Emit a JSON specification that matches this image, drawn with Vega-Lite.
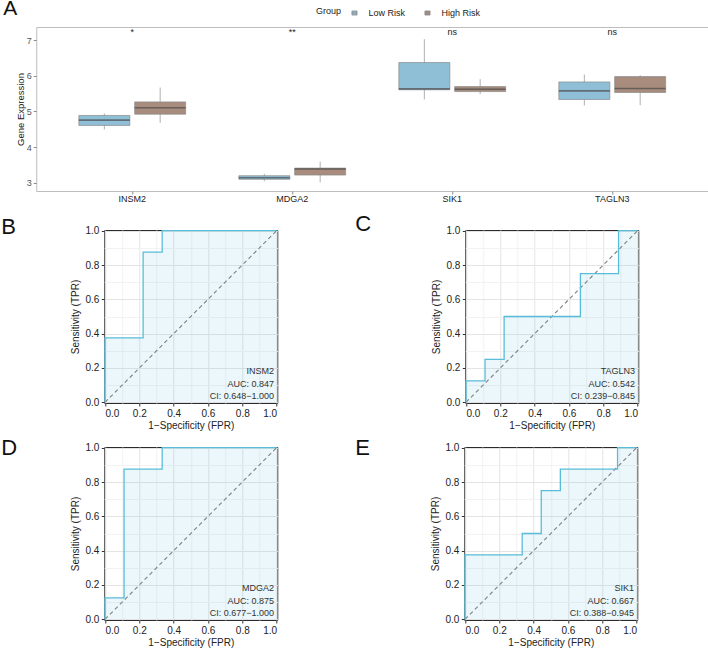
{
  "$schema": "https://vega.github.io/schema/vega-lite/v6.json",
  "padding": {"top": -3, "left": 0, "right": 0, "bottom": 0},
  "autosize": {"type": "pad"},
  "background": "white",
  "config": {
    "font": "Liberation Sans",
    "view": {"stroke": null},
    "title": {"font": "Liberation Sans", "fontWeight": "normal", "color": "#111"},
    "axis": {"grid": true, "domain": false, "tickColor": "#333", "tickSize": 3, "labelFontSize": 10, "labelColor": "#222", "titleFontSize": 10, "titleFontWeight": "normal", "titleColor": "#222", "labelOverlap": false}
  },
  "datasets": {
    "box": [
      {"gene": "INSM2", "group": "Low Risk", "lower": 4.496, "q1": 4.608, "median": 4.757, "q3": 4.889, "upper": 4.945},
      {"gene": "INSM2", "group": "High Risk", "lower": 4.68, "q1": 4.925, "median": 5.105, "q3": 5.27, "upper": 5.674},
      {"gene": "MDGA2", "group": "Low Risk", "lower": 3.04, "q1": 3.095, "median": 3.14, "q3": 3.196, "upper": 3.25},
      {"gene": "MDGA2", "group": "High Risk", "lower": 3.01, "q1": 3.215, "median": 3.383, "q3": 3.41, "upper": 3.59},
      {"gene": "SIK1", "group": "Low Risk", "lower": 5.34, "q1": 5.61, "median": 5.635, "q3": 6.375, "upper": 7.03},
      {"gene": "SIK1", "group": "High Risk", "lower": 5.486, "q1": 5.56, "median": 5.626, "q3": 5.7, "upper": 5.907},
      {"gene": "TAGLN3", "group": "Low Risk", "lower": 5.17, "q1": 5.337, "median": 5.58, "q3": 5.83, "upper": 6.038},
      {"gene": "TAGLN3", "group": "High Risk", "lower": 5.178, "q1": 5.534, "median": 5.646, "q3": 5.98, "upper": 6.02}
    ],
    "sig": [
      {"gene": "INSM2", "label": "*"},
      {"gene": "MDGA2", "label": "**"},
      {"gene": "SIK1", "label": "ns"},
      {"gene": "TAGLN3", "label": "ns"}
    ],
    "roc": [
      {"gene": "INSM2", "i": 0, "fpr": 0, "tpr": 0},
      {"gene": "INSM2", "i": 1, "fpr": 0, "tpr": 0.375},
      {"gene": "INSM2", "i": 2, "fpr": 0.2222, "tpr": 0.375},
      {"gene": "INSM2", "i": 3, "fpr": 0.2222, "tpr": 0.875},
      {"gene": "INSM2", "i": 4, "fpr": 0.3333, "tpr": 0.875},
      {"gene": "INSM2", "i": 5, "fpr": 0.3333, "tpr": 1},
      {"gene": "INSM2", "i": 6, "fpr": 1, "tpr": 1},
      {"gene": "TAGLN3", "i": 0, "fpr": 0, "tpr": 0},
      {"gene": "TAGLN3", "i": 1, "fpr": 0, "tpr": 0.125},
      {"gene": "TAGLN3", "i": 2, "fpr": 0.1111, "tpr": 0.125},
      {"gene": "TAGLN3", "i": 3, "fpr": 0.1111, "tpr": 0.25},
      {"gene": "TAGLN3", "i": 4, "fpr": 0.2222, "tpr": 0.25},
      {"gene": "TAGLN3", "i": 5, "fpr": 0.2222, "tpr": 0.5},
      {"gene": "TAGLN3", "i": 6, "fpr": 0.6667, "tpr": 0.5},
      {"gene": "TAGLN3", "i": 7, "fpr": 0.6667, "tpr": 0.75},
      {"gene": "TAGLN3", "i": 8, "fpr": 0.8889, "tpr": 0.75},
      {"gene": "TAGLN3", "i": 9, "fpr": 0.8889, "tpr": 1},
      {"gene": "TAGLN3", "i": 10, "fpr": 1, "tpr": 1},
      {"gene": "MDGA2", "i": 0, "fpr": 0, "tpr": 0},
      {"gene": "MDGA2", "i": 1, "fpr": 0, "tpr": 0.125},
      {"gene": "MDGA2", "i": 2, "fpr": 0.1111, "tpr": 0.125},
      {"gene": "MDGA2", "i": 3, "fpr": 0.1111, "tpr": 0.875},
      {"gene": "MDGA2", "i": 4, "fpr": 0.3333, "tpr": 0.875},
      {"gene": "MDGA2", "i": 5, "fpr": 0.3333, "tpr": 1},
      {"gene": "MDGA2", "i": 6, "fpr": 1, "tpr": 1},
      {"gene": "SIK1", "i": 0, "fpr": 0, "tpr": 0},
      {"gene": "SIK1", "i": 1, "fpr": 0, "tpr": 0.375},
      {"gene": "SIK1", "i": 2, "fpr": 0.3333, "tpr": 0.375},
      {"gene": "SIK1", "i": 3, "fpr": 0.3333, "tpr": 0.5},
      {"gene": "SIK1", "i": 4, "fpr": 0.4444, "tpr": 0.5},
      {"gene": "SIK1", "i": 5, "fpr": 0.4444, "tpr": 0.75},
      {"gene": "SIK1", "i": 6, "fpr": 0.5556, "tpr": 0.75},
      {"gene": "SIK1", "i": 7, "fpr": 0.5556, "tpr": 0.875},
      {"gene": "SIK1", "i": 8, "fpr": 0.8889, "tpr": 0.875},
      {"gene": "SIK1", "i": 9, "fpr": 0.8889, "tpr": 1},
      {"gene": "SIK1", "i": 10, "fpr": 1, "tpr": 1}
    ],
    "stats": [
      {"gene": "INSM2", "auc": "AUC: 0.847", "ci": "CI: 0.648−1.000"},
      {"gene": "TAGLN3", "auc": "AUC: 0.542", "ci": "CI: 0.239−0.845"},
      {"gene": "MDGA2", "auc": "AUC: 0.875", "ci": "CI: 0.677−1.000"},
      {"gene": "SIK1", "auc": "AUC: 0.667", "ci": "CI: 0.388−0.945"}
    ]
  },
  "center": true,
  "spacing": 8,
  "vconcat": [
    {
      "width": 672,
      "height": 164,
      "title": {"text": "A", "anchor": "start", "frame": "group", "dx": -33, "offset": -9, "baseline": "alphabetic", "fontSize": 21},
      "view": {"stroke": "#bdbdbd", "strokeWidth": 1},
      "encoding": {
        "x": {
          "field": "gene", "type": "nominal",
          "scale": {"paddingInner": 0, "paddingOuter": 0.1},
          "axis": {"title": null, "labelAngle": 0, "labelFontSize": 9, "labelColor": "#222", "tickColor": "#888", "tickSize": 3, "labelPadding": 0, "domain": false, "grid": false}
        }
      },
      "layer": [
        {
          "data": {"name": "box"},
          "mark": {"type": "rule", "color": "#9a9a9a", "strokeWidth": 0.8},
          "encoding": {
            "xOffset": {"field": "group", "type": "nominal", "sort": ["Low Risk", "High Risk"], "scale": {"paddingInner": 0, "paddingOuter": 0.433}},
            "y": {
              "field": "lower", "type": "quantitative",
              "scale": {"domain": [2.767, 7.373], "nice": false, "zero": false},
              "axis": {"title": "Gene Expression", "values": [3, 4, 5, 6, 7], "grid": false, "domain": false, "tickColor": "#888", "tickSize": 3, "labelFontSize": 9, "labelColor": "#555", "labelPadding": 2, "titleFontSize": 9.5, "titleFontWeight": "normal", "titleColor": "#222", "titlePadding": 1}
            },
            "y2": {"field": "upper"}
          }
        },
        {
          "data": {"name": "box"},
          "mark": {"type": "bar", "width": 51, "stroke": "#8a8a8a", "strokeWidth": 0.7},
          "encoding": {
            "xOffset": {"field": "group", "type": "nominal", "sort": ["Low Risk", "High Risk"]},
            "y": {"field": "q1", "type": "quantitative"},
            "y2": {"field": "q3"},
            "color": {
              "field": "group", "type": "nominal",
              "scale": {"domain": ["Low Risk", "High Risk"], "range": ["#8fbfd6", "#a88c7d"]},
              "legend": {
                "orient": "none", "legendX": 280, "legendY": -23, "direction": "horizontal",
                "title": "Group", "titleOrient": "left", "titleAnchor": "middle", "titleBaseline": "middle",
                "titleFontSize": 9, "titleFontWeight": "normal", "titleColor": "#222", "titlePadding": 3.5,
                "labelFontSize": 9, "labelColor": "#222", "labelOffset": 5, "columnPadding": 13,
                "symbolType": "M-0.3,-0.24H0.3V0.24H-0.3Z M-0.3,0H0.3", "symbolSize": 289,
                "symbolStrokeColor": "#8a8a8a", "symbolStrokeWidth": 0.8
              }
            }
          }
        },
        {
          "data": {"name": "box"},
          "mark": {"type": "tick", "color": "#4a4a4a", "size": 51, "thickness": 1.6},
          "encoding": {
            "xOffset": {"field": "group", "type": "nominal", "sort": ["Low Risk", "High Risk"]},
            "y": {"field": "median", "type": "quantitative"}
          }
        },
        {
          "data": {"name": "sig"},
          "mark": {"type": "text", "fontSize": 9, "baseline": "middle", "color": "#222"},
          "encoding": {
            "y": {"datum": 7.22, "type": "quantitative"},
            "text": {"field": "label"}
          }
        }
      ]
    },
    {
      "spacing": 5,
      "vconcat": [
        {
          "spacing": 74,
          "hconcat": [
            {
              "width": 173, "height": 173,
              "title": {"text": "B", "anchor": "start", "frame": "group", "dx": -103, "dy": 9, "offset": -21, "baseline": "alphabetic", "fontSize": 22},
              "view": {"stroke": "#2b2b2b", "strokeWidth": 1},
              "layer": [
                {"data": {"name": "roc"}, "transform": [{"filter": {"field": "gene", "equal": "INSM2"}}], "mark": {"type": "area", "color": "#59bcd9", "opacity": 0.12},
                  "encoding": {
                    "x": {"field": "fpr", "type": "quantitative", "scale": {"domain": [-0.004, 1.004], "nice": false, "zero": false}, "axis": {"title": "1−Specificity (FPR)", "values": [0, 0.1, 0.2, 0.3, 0.4, 0.5, 0.6, 0.7, 0.8, 0.9, 1], "labelExpr": "round(datum.value*10) % 2 === 0 ? format(datum.value, '.1f') : ''", "gridColor": {"condition": {"test": "round(datum.value*10) % 2 === 1", "value": "#f2f2f2"}, "value": "#e4e4e4"}, "tickOpacity": {"condition": {"test": "round(datum.value*10) % 2 === 1", "value": 0}, "value": 1}, "labelPadding": 2, "titlePadding": 2}},
                    "y": {"field": "tpr", "type": "quantitative", "scale": {"domain": [-0.004, 1.004], "nice": false, "zero": false}, "axis": {"title": "Sensitivity (TPR)", "values": [0, 0.1, 0.2, 0.3, 0.4, 0.5, 0.6, 0.7, 0.8, 0.9, 1], "labelExpr": "round(datum.value*10) % 2 === 0 ? format(datum.value, '.1f') : ''", "gridColor": {"condition": {"test": "round(datum.value*10) % 2 === 1", "value": "#f2f2f2"}, "value": "#e4e4e4"}, "tickOpacity": {"condition": {"test": "round(datum.value*10) % 2 === 1", "value": 0}, "value": 1}, "labelPadding": 2.5, "titlePadding": 4.5}},
                    "y2": {"datum": 0}
                  }},
                {"data": {"name": "stats"}, "transform": [{"filter": {"field": "gene", "equal": "INSM2"}}], "mark": {"type": "rule", "color": "#808080", "strokeDash": [4, 3], "strokeWidth": 1.1},
                  "encoding": {
                    "x": {"datum": 0, "type": "quantitative", "axis": {"title": "1−Specificity (FPR)", "values": [0, 0.1, 0.2, 0.3, 0.4, 0.5, 0.6, 0.7, 0.8, 0.9, 1], "labelExpr": "round(datum.value*10) % 2 === 0 ? format(datum.value, '.1f') : ''", "gridColor": {"condition": {"test": "round(datum.value*10) % 2 === 1", "value": "#f2f2f2"}, "value": "#e4e4e4"}, "tickOpacity": {"condition": {"test": "round(datum.value*10) % 2 === 1", "value": 0}, "value": 1}, "labelPadding": 2, "titlePadding": 2}},
                    "y": {"datum": 0, "type": "quantitative", "axis": {"title": "Sensitivity (TPR)", "values": [0, 0.1, 0.2, 0.3, 0.4, 0.5, 0.6, 0.7, 0.8, 0.9, 1], "labelExpr": "round(datum.value*10) % 2 === 0 ? format(datum.value, '.1f') : ''", "gridColor": {"condition": {"test": "round(datum.value*10) % 2 === 1", "value": "#f2f2f2"}, "value": "#e4e4e4"}, "tickOpacity": {"condition": {"test": "round(datum.value*10) % 2 === 1", "value": 0}, "value": 1}, "labelPadding": 2.5, "titlePadding": 4.5}},
                    "x2": {"datum": 1}, "y2": {"datum": 1}
                  }},
                {"data": {"name": "roc"}, "transform": [{"filter": {"field": "gene", "equal": "INSM2"}}], "mark": {"type": "line", "color": "#59bcd9", "strokeWidth": 1.3},
                  "encoding": {
                    "x": {"field": "fpr", "type": "quantitative", "axis": {"title": "1−Specificity (FPR)", "values": [0, 0.1, 0.2, 0.3, 0.4, 0.5, 0.6, 0.7, 0.8, 0.9, 1], "labelExpr": "round(datum.value*10) % 2 === 0 ? format(datum.value, '.1f') : ''", "gridColor": {"condition": {"test": "round(datum.value*10) % 2 === 1", "value": "#f2f2f2"}, "value": "#e4e4e4"}, "tickOpacity": {"condition": {"test": "round(datum.value*10) % 2 === 1", "value": 0}, "value": 1}, "labelPadding": 2, "titlePadding": 2}},
                    "y": {"field": "tpr", "type": "quantitative", "axis": {"title": "Sensitivity (TPR)", "values": [0, 0.1, 0.2, 0.3, 0.4, 0.5, 0.6, 0.7, 0.8, 0.9, 1], "labelExpr": "round(datum.value*10) % 2 === 0 ? format(datum.value, '.1f') : ''", "gridColor": {"condition": {"test": "round(datum.value*10) % 2 === 1", "value": "#f2f2f2"}, "value": "#e4e4e4"}, "tickOpacity": {"condition": {"test": "round(datum.value*10) % 2 === 1", "value": 0}, "value": 1}, "labelPadding": 2.5, "titlePadding": 4.5}},
                    "order": {"field": "i"}
                  }},
                {"data": {"name": "stats"}, "transform": [{"filter": {"field": "gene", "equal": "INSM2"}}],
                  "encoding": {
                    "x": {"datum": 0.985, "type": "quantitative", "axis": {"title": "1−Specificity (FPR)", "values": [0, 0.1, 0.2, 0.3, 0.4, 0.5, 0.6, 0.7, 0.8, 0.9, 1], "labelExpr": "round(datum.value*10) % 2 === 0 ? format(datum.value, '.1f') : ''", "gridColor": {"condition": {"test": "round(datum.value*10) % 2 === 1", "value": "#f2f2f2"}, "value": "#e4e4e4"}, "tickOpacity": {"condition": {"test": "round(datum.value*10) % 2 === 1", "value": 0}, "value": 1}, "labelPadding": 2, "titlePadding": 2}}
                  },
                  "layer": [
                    {"mark": {"type": "text", "align": "right", "baseline": "middle", "fontSize": 9, "color": "#333"}, "encoding": {"y": {"datum": 0.18, "type": "quantitative", "axis": {"title": "Sensitivity (TPR)", "values": [0, 0.1, 0.2, 0.3, 0.4, 0.5, 0.6, 0.7, 0.8, 0.9, 1], "labelExpr": "round(datum.value*10) % 2 === 0 ? format(datum.value, '.1f') : ''", "gridColor": {"condition": {"test": "round(datum.value*10) % 2 === 1", "value": "#f2f2f2"}, "value": "#e4e4e4"}, "tickOpacity": {"condition": {"test": "round(datum.value*10) % 2 === 1", "value": 0}, "value": 1}, "labelPadding": 2.5, "titlePadding": 4.5}}, "text": {"field": "gene"}}},
                    {"mark": {"type": "text", "align": "right", "baseline": "middle", "fontSize": 9, "color": "#333"}, "encoding": {"y": {"datum": 0.105, "type": "quantitative", "axis": {"title": "Sensitivity (TPR)", "values": [0, 0.1, 0.2, 0.3, 0.4, 0.5, 0.6, 0.7, 0.8, 0.9, 1], "labelExpr": "round(datum.value*10) % 2 === 0 ? format(datum.value, '.1f') : ''", "gridColor": {"condition": {"test": "round(datum.value*10) % 2 === 1", "value": "#f2f2f2"}, "value": "#e4e4e4"}, "tickOpacity": {"condition": {"test": "round(datum.value*10) % 2 === 1", "value": 0}, "value": 1}, "labelPadding": 2.5, "titlePadding": 4.5}}, "text": {"field": "auc"}}},
                    {"mark": {"type": "text", "align": "right", "baseline": "middle", "fontSize": 9, "color": "#333"}, "encoding": {"y": {"datum": 0.035, "type": "quantitative", "axis": {"title": "Sensitivity (TPR)", "values": [0, 0.1, 0.2, 0.3, 0.4, 0.5, 0.6, 0.7, 0.8, 0.9, 1], "labelExpr": "round(datum.value*10) % 2 === 0 ? format(datum.value, '.1f') : ''", "gridColor": {"condition": {"test": "round(datum.value*10) % 2 === 1", "value": "#f2f2f2"}, "value": "#e4e4e4"}, "tickOpacity": {"condition": {"test": "round(datum.value*10) % 2 === 1", "value": 0}, "value": 1}, "labelPadding": 2.5, "titlePadding": 4.5}}, "text": {"field": "ci"}}}
                  ]}
              ]
            },
            {
              "width": 173, "height": 173,
              "title": {"text": "C", "anchor": "start", "frame": "group", "dx": -110, "dy": 8, "offset": -19, "baseline": "alphabetic", "fontSize": 22},
              "view": {"stroke": "#2b2b2b", "strokeWidth": 1},
              "layer": [
                {"data": {"name": "roc"}, "transform": [{"filter": {"field": "gene", "equal": "TAGLN3"}}], "mark": {"type": "area", "color": "#59bcd9", "opacity": 0.12},
                  "encoding": {
                    "x": {"field": "fpr", "type": "quantitative", "scale": {"domain": [-0.004, 1.004], "nice": false, "zero": false}, "axis": {"title": "1−Specificity (FPR)", "values": [0, 0.1, 0.2, 0.3, 0.4, 0.5, 0.6, 0.7, 0.8, 0.9, 1], "labelExpr": "round(datum.value*10) % 2 === 0 ? format(datum.value, '.1f') : ''", "gridColor": {"condition": {"test": "round(datum.value*10) % 2 === 1", "value": "#f2f2f2"}, "value": "#e4e4e4"}, "tickOpacity": {"condition": {"test": "round(datum.value*10) % 2 === 1", "value": 0}, "value": 1}, "labelPadding": 2, "titlePadding": 2}},
                    "y": {"field": "tpr", "type": "quantitative", "scale": {"domain": [-0.004, 1.004], "nice": false, "zero": false}, "axis": {"title": "Sensitivity (TPR)", "values": [0, 0.1, 0.2, 0.3, 0.4, 0.5, 0.6, 0.7, 0.8, 0.9, 1], "labelExpr": "round(datum.value*10) % 2 === 0 ? format(datum.value, '.1f') : ''", "gridColor": {"condition": {"test": "round(datum.value*10) % 2 === 1", "value": "#f2f2f2"}, "value": "#e4e4e4"}, "tickOpacity": {"condition": {"test": "round(datum.value*10) % 2 === 1", "value": 0}, "value": 1}, "labelPadding": 2.5, "titlePadding": 4.5}},
                    "y2": {"datum": 0}
                  }},
                {"data": {"name": "stats"}, "transform": [{"filter": {"field": "gene", "equal": "TAGLN3"}}], "mark": {"type": "rule", "color": "#808080", "strokeDash": [4, 3], "strokeWidth": 1.1},
                  "encoding": {
                    "x": {"datum": 0, "type": "quantitative", "axis": {"title": "1−Specificity (FPR)", "values": [0, 0.1, 0.2, 0.3, 0.4, 0.5, 0.6, 0.7, 0.8, 0.9, 1], "labelExpr": "round(datum.value*10) % 2 === 0 ? format(datum.value, '.1f') : ''", "gridColor": {"condition": {"test": "round(datum.value*10) % 2 === 1", "value": "#f2f2f2"}, "value": "#e4e4e4"}, "tickOpacity": {"condition": {"test": "round(datum.value*10) % 2 === 1", "value": 0}, "value": 1}, "labelPadding": 2, "titlePadding": 2}},
                    "y": {"datum": 0, "type": "quantitative", "axis": {"title": "Sensitivity (TPR)", "values": [0, 0.1, 0.2, 0.3, 0.4, 0.5, 0.6, 0.7, 0.8, 0.9, 1], "labelExpr": "round(datum.value*10) % 2 === 0 ? format(datum.value, '.1f') : ''", "gridColor": {"condition": {"test": "round(datum.value*10) % 2 === 1", "value": "#f2f2f2"}, "value": "#e4e4e4"}, "tickOpacity": {"condition": {"test": "round(datum.value*10) % 2 === 1", "value": 0}, "value": 1}, "labelPadding": 2.5, "titlePadding": 4.5}},
                    "x2": {"datum": 1}, "y2": {"datum": 1}
                  }},
                {"data": {"name": "roc"}, "transform": [{"filter": {"field": "gene", "equal": "TAGLN3"}}], "mark": {"type": "line", "color": "#59bcd9", "strokeWidth": 1.3},
                  "encoding": {
                    "x": {"field": "fpr", "type": "quantitative", "axis": {"title": "1−Specificity (FPR)", "values": [0, 0.1, 0.2, 0.3, 0.4, 0.5, 0.6, 0.7, 0.8, 0.9, 1], "labelExpr": "round(datum.value*10) % 2 === 0 ? format(datum.value, '.1f') : ''", "gridColor": {"condition": {"test": "round(datum.value*10) % 2 === 1", "value": "#f2f2f2"}, "value": "#e4e4e4"}, "tickOpacity": {"condition": {"test": "round(datum.value*10) % 2 === 1", "value": 0}, "value": 1}, "labelPadding": 2, "titlePadding": 2}},
                    "y": {"field": "tpr", "type": "quantitative", "axis": {"title": "Sensitivity (TPR)", "values": [0, 0.1, 0.2, 0.3, 0.4, 0.5, 0.6, 0.7, 0.8, 0.9, 1], "labelExpr": "round(datum.value*10) % 2 === 0 ? format(datum.value, '.1f') : ''", "gridColor": {"condition": {"test": "round(datum.value*10) % 2 === 1", "value": "#f2f2f2"}, "value": "#e4e4e4"}, "tickOpacity": {"condition": {"test": "round(datum.value*10) % 2 === 1", "value": 0}, "value": 1}, "labelPadding": 2.5, "titlePadding": 4.5}},
                    "order": {"field": "i"}
                  }},
                {"data": {"name": "stats"}, "transform": [{"filter": {"field": "gene", "equal": "TAGLN3"}}],
                  "encoding": {
                    "x": {"datum": 0.985, "type": "quantitative", "axis": {"title": "1−Specificity (FPR)", "values": [0, 0.1, 0.2, 0.3, 0.4, 0.5, 0.6, 0.7, 0.8, 0.9, 1], "labelExpr": "round(datum.value*10) % 2 === 0 ? format(datum.value, '.1f') : ''", "gridColor": {"condition": {"test": "round(datum.value*10) % 2 === 1", "value": "#f2f2f2"}, "value": "#e4e4e4"}, "tickOpacity": {"condition": {"test": "round(datum.value*10) % 2 === 1", "value": 0}, "value": 1}, "labelPadding": 2, "titlePadding": 2}}
                  },
                  "layer": [
                    {"mark": {"type": "text", "align": "right", "baseline": "middle", "fontSize": 9, "color": "#333"}, "encoding": {"y": {"datum": 0.18, "type": "quantitative", "axis": {"title": "Sensitivity (TPR)", "values": [0, 0.1, 0.2, 0.3, 0.4, 0.5, 0.6, 0.7, 0.8, 0.9, 1], "labelExpr": "round(datum.value*10) % 2 === 0 ? format(datum.value, '.1f') : ''", "gridColor": {"condition": {"test": "round(datum.value*10) % 2 === 1", "value": "#f2f2f2"}, "value": "#e4e4e4"}, "tickOpacity": {"condition": {"test": "round(datum.value*10) % 2 === 1", "value": 0}, "value": 1}, "labelPadding": 2.5, "titlePadding": 4.5}}, "text": {"field": "gene"}}},
                    {"mark": {"type": "text", "align": "right", "baseline": "middle", "fontSize": 9, "color": "#333"}, "encoding": {"y": {"datum": 0.105, "type": "quantitative", "axis": {"title": "Sensitivity (TPR)", "values": [0, 0.1, 0.2, 0.3, 0.4, 0.5, 0.6, 0.7, 0.8, 0.9, 1], "labelExpr": "round(datum.value*10) % 2 === 0 ? format(datum.value, '.1f') : ''", "gridColor": {"condition": {"test": "round(datum.value*10) % 2 === 1", "value": "#f2f2f2"}, "value": "#e4e4e4"}, "tickOpacity": {"condition": {"test": "round(datum.value*10) % 2 === 1", "value": 0}, "value": 1}, "labelPadding": 2.5, "titlePadding": 4.5}}, "text": {"field": "auc"}}},
                    {"mark": {"type": "text", "align": "right", "baseline": "middle", "fontSize": 9, "color": "#333"}, "encoding": {"y": {"datum": 0.035, "type": "quantitative", "axis": {"title": "Sensitivity (TPR)", "values": [0, 0.1, 0.2, 0.3, 0.4, 0.5, 0.6, 0.7, 0.8, 0.9, 1], "labelExpr": "round(datum.value*10) % 2 === 0 ? format(datum.value, '.1f') : ''", "gridColor": {"condition": {"test": "round(datum.value*10) % 2 === 1", "value": "#f2f2f2"}, "value": "#e4e4e4"}, "tickOpacity": {"condition": {"test": "round(datum.value*10) % 2 === 1", "value": 0}, "value": 1}, "labelPadding": 2.5, "titlePadding": 4.5}}, "text": {"field": "ci"}}}
                  ]}
              ]
            }
          ]
        },
        {
          "spacing": 74,
          "hconcat": [
            {
              "width": 173, "height": 173,
              "title": {"text": "D", "anchor": "start", "frame": "group", "dx": -103, "dy": 11, "offset": -23, "baseline": "alphabetic", "fontSize": 22},
              "view": {"stroke": "#2b2b2b", "strokeWidth": 1},
              "layer": [
                {"data": {"name": "roc"}, "transform": [{"filter": {"field": "gene", "equal": "MDGA2"}}], "mark": {"type": "area", "color": "#59bcd9", "opacity": 0.12},
                  "encoding": {
                    "x": {"field": "fpr", "type": "quantitative", "scale": {"domain": [-0.004, 1.004], "nice": false, "zero": false}, "axis": {"title": "1−Specificity (FPR)", "values": [0, 0.1, 0.2, 0.3, 0.4, 0.5, 0.6, 0.7, 0.8, 0.9, 1], "labelExpr": "round(datum.value*10) % 2 === 0 ? format(datum.value, '.1f') : ''", "gridColor": {"condition": {"test": "round(datum.value*10) % 2 === 1", "value": "#f2f2f2"}, "value": "#e4e4e4"}, "tickOpacity": {"condition": {"test": "round(datum.value*10) % 2 === 1", "value": 0}, "value": 1}, "labelPadding": 2, "titlePadding": 2}},
                    "y": {"field": "tpr", "type": "quantitative", "scale": {"domain": [-0.004, 1.004], "nice": false, "zero": false}, "axis": {"title": "Sensitivity (TPR)", "values": [0, 0.1, 0.2, 0.3, 0.4, 0.5, 0.6, 0.7, 0.8, 0.9, 1], "labelExpr": "round(datum.value*10) % 2 === 0 ? format(datum.value, '.1f') : ''", "gridColor": {"condition": {"test": "round(datum.value*10) % 2 === 1", "value": "#f2f2f2"}, "value": "#e4e4e4"}, "tickOpacity": {"condition": {"test": "round(datum.value*10) % 2 === 1", "value": 0}, "value": 1}, "labelPadding": 2.5, "titlePadding": 4.5}},
                    "y2": {"datum": 0}
                  }},
                {"data": {"name": "stats"}, "transform": [{"filter": {"field": "gene", "equal": "MDGA2"}}], "mark": {"type": "rule", "color": "#808080", "strokeDash": [4, 3], "strokeWidth": 1.1},
                  "encoding": {
                    "x": {"datum": 0, "type": "quantitative", "axis": {"title": "1−Specificity (FPR)", "values": [0, 0.1, 0.2, 0.3, 0.4, 0.5, 0.6, 0.7, 0.8, 0.9, 1], "labelExpr": "round(datum.value*10) % 2 === 0 ? format(datum.value, '.1f') : ''", "gridColor": {"condition": {"test": "round(datum.value*10) % 2 === 1", "value": "#f2f2f2"}, "value": "#e4e4e4"}, "tickOpacity": {"condition": {"test": "round(datum.value*10) % 2 === 1", "value": 0}, "value": 1}, "labelPadding": 2, "titlePadding": 2}},
                    "y": {"datum": 0, "type": "quantitative", "axis": {"title": "Sensitivity (TPR)", "values": [0, 0.1, 0.2, 0.3, 0.4, 0.5, 0.6, 0.7, 0.8, 0.9, 1], "labelExpr": "round(datum.value*10) % 2 === 0 ? format(datum.value, '.1f') : ''", "gridColor": {"condition": {"test": "round(datum.value*10) % 2 === 1", "value": "#f2f2f2"}, "value": "#e4e4e4"}, "tickOpacity": {"condition": {"test": "round(datum.value*10) % 2 === 1", "value": 0}, "value": 1}, "labelPadding": 2.5, "titlePadding": 4.5}},
                    "x2": {"datum": 1}, "y2": {"datum": 1}
                  }},
                {"data": {"name": "roc"}, "transform": [{"filter": {"field": "gene", "equal": "MDGA2"}}], "mark": {"type": "line", "color": "#59bcd9", "strokeWidth": 1.3},
                  "encoding": {
                    "x": {"field": "fpr", "type": "quantitative", "axis": {"title": "1−Specificity (FPR)", "values": [0, 0.1, 0.2, 0.3, 0.4, 0.5, 0.6, 0.7, 0.8, 0.9, 1], "labelExpr": "round(datum.value*10) % 2 === 0 ? format(datum.value, '.1f') : ''", "gridColor": {"condition": {"test": "round(datum.value*10) % 2 === 1", "value": "#f2f2f2"}, "value": "#e4e4e4"}, "tickOpacity": {"condition": {"test": "round(datum.value*10) % 2 === 1", "value": 0}, "value": 1}, "labelPadding": 2, "titlePadding": 2}},
                    "y": {"field": "tpr", "type": "quantitative", "axis": {"title": "Sensitivity (TPR)", "values": [0, 0.1, 0.2, 0.3, 0.4, 0.5, 0.6, 0.7, 0.8, 0.9, 1], "labelExpr": "round(datum.value*10) % 2 === 0 ? format(datum.value, '.1f') : ''", "gridColor": {"condition": {"test": "round(datum.value*10) % 2 === 1", "value": "#f2f2f2"}, "value": "#e4e4e4"}, "tickOpacity": {"condition": {"test": "round(datum.value*10) % 2 === 1", "value": 0}, "value": 1}, "labelPadding": 2.5, "titlePadding": 4.5}},
                    "order": {"field": "i"}
                  }},
                {"data": {"name": "stats"}, "transform": [{"filter": {"field": "gene", "equal": "MDGA2"}}],
                  "encoding": {
                    "x": {"datum": 0.985, "type": "quantitative", "axis": {"title": "1−Specificity (FPR)", "values": [0, 0.1, 0.2, 0.3, 0.4, 0.5, 0.6, 0.7, 0.8, 0.9, 1], "labelExpr": "round(datum.value*10) % 2 === 0 ? format(datum.value, '.1f') : ''", "gridColor": {"condition": {"test": "round(datum.value*10) % 2 === 1", "value": "#f2f2f2"}, "value": "#e4e4e4"}, "tickOpacity": {"condition": {"test": "round(datum.value*10) % 2 === 1", "value": 0}, "value": 1}, "labelPadding": 2, "titlePadding": 2}}
                  },
                  "layer": [
                    {"mark": {"type": "text", "align": "right", "baseline": "middle", "fontSize": 9, "color": "#333"}, "encoding": {"y": {"datum": 0.18, "type": "quantitative", "axis": {"title": "Sensitivity (TPR)", "values": [0, 0.1, 0.2, 0.3, 0.4, 0.5, 0.6, 0.7, 0.8, 0.9, 1], "labelExpr": "round(datum.value*10) % 2 === 0 ? format(datum.value, '.1f') : ''", "gridColor": {"condition": {"test": "round(datum.value*10) % 2 === 1", "value": "#f2f2f2"}, "value": "#e4e4e4"}, "tickOpacity": {"condition": {"test": "round(datum.value*10) % 2 === 1", "value": 0}, "value": 1}, "labelPadding": 2.5, "titlePadding": 4.5}}, "text": {"field": "gene"}}},
                    {"mark": {"type": "text", "align": "right", "baseline": "middle", "fontSize": 9, "color": "#333"}, "encoding": {"y": {"datum": 0.105, "type": "quantitative", "axis": {"title": "Sensitivity (TPR)", "values": [0, 0.1, 0.2, 0.3, 0.4, 0.5, 0.6, 0.7, 0.8, 0.9, 1], "labelExpr": "round(datum.value*10) % 2 === 0 ? format(datum.value, '.1f') : ''", "gridColor": {"condition": {"test": "round(datum.value*10) % 2 === 1", "value": "#f2f2f2"}, "value": "#e4e4e4"}, "tickOpacity": {"condition": {"test": "round(datum.value*10) % 2 === 1", "value": 0}, "value": 1}, "labelPadding": 2.5, "titlePadding": 4.5}}, "text": {"field": "auc"}}},
                    {"mark": {"type": "text", "align": "right", "baseline": "middle", "fontSize": 9, "color": "#333"}, "encoding": {"y": {"datum": 0.035, "type": "quantitative", "axis": {"title": "Sensitivity (TPR)", "values": [0, 0.1, 0.2, 0.3, 0.4, 0.5, 0.6, 0.7, 0.8, 0.9, 1], "labelExpr": "round(datum.value*10) % 2 === 0 ? format(datum.value, '.1f') : ''", "gridColor": {"condition": {"test": "round(datum.value*10) % 2 === 1", "value": "#f2f2f2"}, "value": "#e4e4e4"}, "tickOpacity": {"condition": {"test": "round(datum.value*10) % 2 === 1", "value": 0}, "value": 1}, "labelPadding": 2.5, "titlePadding": 4.5}}, "text": {"field": "ci"}}}
                  ]}
              ]
            },
            {
              "width": 173, "height": 173,
              "title": {"text": "E", "anchor": "start", "frame": "group", "dx": -109, "dy": 11, "offset": -23, "baseline": "alphabetic", "fontSize": 22},
              "view": {"stroke": "#2b2b2b", "strokeWidth": 1},
              "layer": [
                {"data": {"name": "roc"}, "transform": [{"filter": {"field": "gene", "equal": "SIK1"}}], "mark": {"type": "area", "color": "#59bcd9", "opacity": 0.12},
                  "encoding": {
                    "x": {"field": "fpr", "type": "quantitative", "scale": {"domain": [-0.004, 1.004], "nice": false, "zero": false}, "axis": {"title": "1−Specificity (FPR)", "values": [0, 0.1, 0.2, 0.3, 0.4, 0.5, 0.6, 0.7, 0.8, 0.9, 1], "labelExpr": "round(datum.value*10) % 2 === 0 ? format(datum.value, '.1f') : ''", "gridColor": {"condition": {"test": "round(datum.value*10) % 2 === 1", "value": "#f2f2f2"}, "value": "#e4e4e4"}, "tickOpacity": {"condition": {"test": "round(datum.value*10) % 2 === 1", "value": 0}, "value": 1}, "labelPadding": 2, "titlePadding": 2}},
                    "y": {"field": "tpr", "type": "quantitative", "scale": {"domain": [-0.004, 1.004], "nice": false, "zero": false}, "axis": {"title": "Sensitivity (TPR)", "values": [0, 0.1, 0.2, 0.3, 0.4, 0.5, 0.6, 0.7, 0.8, 0.9, 1], "labelExpr": "round(datum.value*10) % 2 === 0 ? format(datum.value, '.1f') : ''", "gridColor": {"condition": {"test": "round(datum.value*10) % 2 === 1", "value": "#f2f2f2"}, "value": "#e4e4e4"}, "tickOpacity": {"condition": {"test": "round(datum.value*10) % 2 === 1", "value": 0}, "value": 1}, "labelPadding": 2.5, "titlePadding": 4.5}},
                    "y2": {"datum": 0}
                  }},
                {"data": {"name": "stats"}, "transform": [{"filter": {"field": "gene", "equal": "SIK1"}}], "mark": {"type": "rule", "color": "#808080", "strokeDash": [4, 3], "strokeWidth": 1.1},
                  "encoding": {
                    "x": {"datum": 0, "type": "quantitative", "axis": {"title": "1−Specificity (FPR)", "values": [0, 0.1, 0.2, 0.3, 0.4, 0.5, 0.6, 0.7, 0.8, 0.9, 1], "labelExpr": "round(datum.value*10) % 2 === 0 ? format(datum.value, '.1f') : ''", "gridColor": {"condition": {"test": "round(datum.value*10) % 2 === 1", "value": "#f2f2f2"}, "value": "#e4e4e4"}, "tickOpacity": {"condition": {"test": "round(datum.value*10) % 2 === 1", "value": 0}, "value": 1}, "labelPadding": 2, "titlePadding": 2}},
                    "y": {"datum": 0, "type": "quantitative", "axis": {"title": "Sensitivity (TPR)", "values": [0, 0.1, 0.2, 0.3, 0.4, 0.5, 0.6, 0.7, 0.8, 0.9, 1], "labelExpr": "round(datum.value*10) % 2 === 0 ? format(datum.value, '.1f') : ''", "gridColor": {"condition": {"test": "round(datum.value*10) % 2 === 1", "value": "#f2f2f2"}, "value": "#e4e4e4"}, "tickOpacity": {"condition": {"test": "round(datum.value*10) % 2 === 1", "value": 0}, "value": 1}, "labelPadding": 2.5, "titlePadding": 4.5}},
                    "x2": {"datum": 1}, "y2": {"datum": 1}
                  }},
                {"data": {"name": "roc"}, "transform": [{"filter": {"field": "gene", "equal": "SIK1"}}], "mark": {"type": "line", "color": "#59bcd9", "strokeWidth": 1.3},
                  "encoding": {
                    "x": {"field": "fpr", "type": "quantitative", "axis": {"title": "1−Specificity (FPR)", "values": [0, 0.1, 0.2, 0.3, 0.4, 0.5, 0.6, 0.7, 0.8, 0.9, 1], "labelExpr": "round(datum.value*10) % 2 === 0 ? format(datum.value, '.1f') : ''", "gridColor": {"condition": {"test": "round(datum.value*10) % 2 === 1", "value": "#f2f2f2"}, "value": "#e4e4e4"}, "tickOpacity": {"condition": {"test": "round(datum.value*10) % 2 === 1", "value": 0}, "value": 1}, "labelPadding": 2, "titlePadding": 2}},
                    "y": {"field": "tpr", "type": "quantitative", "axis": {"title": "Sensitivity (TPR)", "values": [0, 0.1, 0.2, 0.3, 0.4, 0.5, 0.6, 0.7, 0.8, 0.9, 1], "labelExpr": "round(datum.value*10) % 2 === 0 ? format(datum.value, '.1f') : ''", "gridColor": {"condition": {"test": "round(datum.value*10) % 2 === 1", "value": "#f2f2f2"}, "value": "#e4e4e4"}, "tickOpacity": {"condition": {"test": "round(datum.value*10) % 2 === 1", "value": 0}, "value": 1}, "labelPadding": 2.5, "titlePadding": 4.5}},
                    "order": {"field": "i"}
                  }},
                {"data": {"name": "stats"}, "transform": [{"filter": {"field": "gene", "equal": "SIK1"}}],
                  "encoding": {
                    "x": {"datum": 0.985, "type": "quantitative", "axis": {"title": "1−Specificity (FPR)", "values": [0, 0.1, 0.2, 0.3, 0.4, 0.5, 0.6, 0.7, 0.8, 0.9, 1], "labelExpr": "round(datum.value*10) % 2 === 0 ? format(datum.value, '.1f') : ''", "gridColor": {"condition": {"test": "round(datum.value*10) % 2 === 1", "value": "#f2f2f2"}, "value": "#e4e4e4"}, "tickOpacity": {"condition": {"test": "round(datum.value*10) % 2 === 1", "value": 0}, "value": 1}, "labelPadding": 2, "titlePadding": 2}}
                  },
                  "layer": [
                    {"mark": {"type": "text", "align": "right", "baseline": "middle", "fontSize": 9, "color": "#333"}, "encoding": {"y": {"datum": 0.18, "type": "quantitative", "axis": {"title": "Sensitivity (TPR)", "values": [0, 0.1, 0.2, 0.3, 0.4, 0.5, 0.6, 0.7, 0.8, 0.9, 1], "labelExpr": "round(datum.value*10) % 2 === 0 ? format(datum.value, '.1f') : ''", "gridColor": {"condition": {"test": "round(datum.value*10) % 2 === 1", "value": "#f2f2f2"}, "value": "#e4e4e4"}, "tickOpacity": {"condition": {"test": "round(datum.value*10) % 2 === 1", "value": 0}, "value": 1}, "labelPadding": 2.5, "titlePadding": 4.5}}, "text": {"field": "gene"}}},
                    {"mark": {"type": "text", "align": "right", "baseline": "middle", "fontSize": 9, "color": "#333"}, "encoding": {"y": {"datum": 0.105, "type": "quantitative", "axis": {"title": "Sensitivity (TPR)", "values": [0, 0.1, 0.2, 0.3, 0.4, 0.5, 0.6, 0.7, 0.8, 0.9, 1], "labelExpr": "round(datum.value*10) % 2 === 0 ? format(datum.value, '.1f') : ''", "gridColor": {"condition": {"test": "round(datum.value*10) % 2 === 1", "value": "#f2f2f2"}, "value": "#e4e4e4"}, "tickOpacity": {"condition": {"test": "round(datum.value*10) % 2 === 1", "value": 0}, "value": 1}, "labelPadding": 2.5, "titlePadding": 4.5}}, "text": {"field": "auc"}}},
                    {"mark": {"type": "text", "align": "right", "baseline": "middle", "fontSize": 9, "color": "#333"}, "encoding": {"y": {"datum": 0.035, "type": "quantitative", "axis": {"title": "Sensitivity (TPR)", "values": [0, 0.1, 0.2, 0.3, 0.4, 0.5, 0.6, 0.7, 0.8, 0.9, 1], "labelExpr": "round(datum.value*10) % 2 === 0 ? format(datum.value, '.1f') : ''", "gridColor": {"condition": {"test": "round(datum.value*10) % 2 === 1", "value": "#f2f2f2"}, "value": "#e4e4e4"}, "tickOpacity": {"condition": {"test": "round(datum.value*10) % 2 === 1", "value": 0}, "value": 1}, "labelPadding": 2.5, "titlePadding": 4.5}}, "text": {"field": "ci"}}}
                  ]}
              ]
            }
          ]
        }
      ]
    }
  ]
}
